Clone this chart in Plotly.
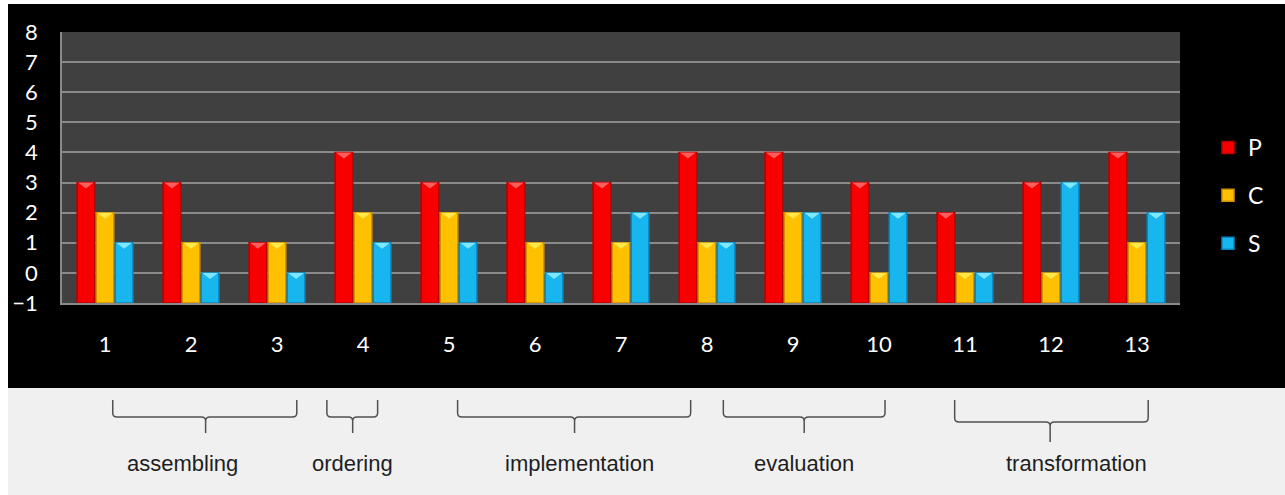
import plotly.graph_objects as go

# ---- data -------------------------------------------------------------
categories = [1, 2, 3, 4, 5, 6, 7, 8, 9, 10, 11, 12, 13]
tick_labels = [str(c) for c in categories]
series_names = ["P", "C", "S"]
p_values = [3, 3, 1, 4, 3, 3, 3, 4, 4, 3, 2, 3, 4]
c_values = [2, 1, 1, 2, 2, 1, 1, 1, 2, 0, 0, 0, 1]
s_values = [1, 0, 0, 1, 1, 0, 2, 1, 2, 2, 0, 3, 2]

group_names = ["assembling", "ordering", "implementation", "evaluation", "transformation"]

# ---- layout constants -------------------------------------------------
W_FIG, H_FIG = 1285, 495
M_L, M_R, M_T, M_B = 62, 105, 32, 192
PLOT_W = W_FIG - M_L - M_R
PLOT_H = H_FIG - M_T - M_B
Y_MIN, Y_MAX = -1, 8

def px_x(px):
    """page pixel column -> paper x"""
    return (px - M_L) / PLOT_W

def px_y(py):
    """page pixel row -> paper y"""
    return (H_FIG - M_B - py) / PLOT_H

fills = ["#f80000", "#ffc000", "#18b6ee"]
edges = ["#b80000", "#d09000", "#0a86c0"]
tops = ["#ff5c5c", "#ffe84a", "#7fe6ff"]

slot = 0.222          # horizontal room for one bar (axis units)
bar_w = 0.205
offsets = [-slot, 0.0, slot]
chev_depth = 0.2      # depth of the bevel triangle at each bar top

fig = go.Figure()

all_values = [p_values, c_values, s_values]
for k, (name, vals) in enumerate(zip(series_names, all_values)):
    xs = [c + offsets[k] for c in categories]
    fig.add_trace(go.Bar(
        x=xs, y=[v - Y_MIN for v in vals], base=Y_MIN, width=bar_w,
        name=name, legendgroup=name,
        marker=dict(color=fills[k], line=dict(color=edges[k], width=1.5)),
        customdata=vals, hovertemplate=name + ": %{customdata}<extra></extra>",
    ))

# bevel triangles on the bar tops
for k, vals in enumerate(all_values):
    tx, ty = [], []
    for c, v in zip(categories, vals):
        xc = c + offsets[k]
        h = bar_w / 2 - 0.01
        tx += [xc - h, xc + h, xc, xc - h, None]
        ty += [v, v, v - chev_depth, v, None]
    fig.add_trace(go.Scatter(
        x=tx, y=ty, mode="lines", fill="toself", fillcolor=tops[k],
        line=dict(width=0, color=tops[k]), showlegend=False, hoverinfo="skip",
        legendgroup=series_names[k],
    ))

shapes = [
    # page frame: white edge strips and the light panel under the chart
    dict(type="rect", xref="paper", yref="paper", x0=px_x(0), x1=px_x(8),
         y0=px_y(H_FIG), y1=px_y(0), fillcolor="white", line_width=0, layer="below"),
    dict(type="rect", xref="paper", yref="paper", x0=px_x(0), x1=px_x(W_FIG),
         y0=px_y(4), y1=px_y(0), fillcolor="white", line_width=0, layer="below"),
    dict(type="rect", xref="paper", yref="paper", x0=px_x(8), x1=px_x(W_FIG),
         y0=px_y(H_FIG), y1=px_y(388), fillcolor="#f0f0f0", line_width=0, layer="below"),
]

# braces under the category axis: (left, right, tip) in axis units
brace_spans = [(1.09, 3.23, 2.17), (3.58, 4.17, 3.88), (5.10, 7.81, 6.46),
               (8.19, 10.07, 9.13), (10.88, 13.13, 11.99)]
brace_rows = [(400, 417, 433)] * 4 + [(400, 422, 442)]
label_x = [1.90, 3.88, 6.52, 9.13, 12.30]

rx = 0.05
for (x0, x1, xm), (rt, rl, rb) in zip(brace_spans, brace_rows):
    yt, yl, yb = px_y(rt), px_y(rl), px_y(rb)
    ry = 4 / PLOT_H
    path = (f"M {x0},{yt} L {x0},{yl + ry} Q {x0},{yl} {x0 + rx},{yl} "
            f"L {xm - rx},{yl} Q {xm},{yl} {xm},{yl - ry} L {xm},{yb} "
            f"M {xm},{yl - ry} Q {xm},{yl} {xm + rx},{yl} "
            f"L {x1 - rx},{yl} Q {x1},{yl} {x1},{yl + ry} L {x1},{yt}")
    shapes.append(dict(type="path", xref="x", yref="paper", path=path,
                       line=dict(color="#505050", width=1.5)))

annotations = [
    dict(x=lx, y=px_y(463), xref="x", yref="paper", text=g, showarrow=False,
         xanchor="center", yanchor="middle",
         font=dict(family="Liberation Sans, Arial", size=22, color="#1e1e1e"))
    for lx, g in zip(label_x, group_names)
]

fig.update_layout(
    width=W_FIG, height=H_FIG,
    margin=dict(l=M_L, r=M_R, t=M_T, b=M_B, pad=0, autoexpand=False),
    paper_bgcolor="black", plot_bgcolor="#404040",
    barmode="overlay",
    shapes=shapes, annotations=annotations,
    font=dict(family="Lato", color="white", size=22),
    legend=dict(x=px_x(1208), y=px_y(126), xanchor="left", yanchor="top",
                bgcolor="rgba(0,0,0,0)", font=dict(family="Lato", size=23, color="white"),
                tracegroupgap=15, traceorder="grouped"),
    showlegend=True,
)
fig.update_xaxes(range=[0.5, 13.5], tickvals=categories, ticktext=tick_labels,
                 showgrid=False, zeroline=False, showline=True, linecolor="#8a8a8a",
                 linewidth=1.5, ticks="", ticklabelstandoff=21, automargin=False,
                 tickfont=dict(family="Lato", size=22, color="white"))
fig.update_yaxes(range=[Y_MIN, Y_MAX], dtick=1, tick0=0, showgrid=True,
                 gridcolor="#8a8a8a", gridwidth=1.5, zeroline=False,
                 showline=True, linecolor="#8a8a8a", linewidth=1.5, ticks="",
                 ticklabelstandoff=18, automargin=False,
                 tickfont=dict(family="Lato", size=22, color="white"))

fig.write_html("out.html")
